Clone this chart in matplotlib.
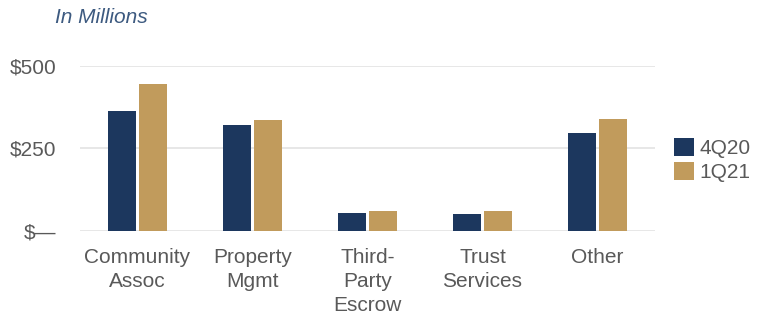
import matplotlib.pyplot as plt
import numpy as np

# ~~~~~~~~ data ~~~~~~~~
categories = ["Community\nAssoc", "Property\nMgmt", "Third-\nParty\nEscrow", "Trust\nServices", "Other"]
series_names = ["4Q20", "1Q21"]
q4_20 = [365, 320, 55, 52, 297]
q1_21 = [445, 336, 60, 60, 339]
yticks = [0, 250, 500]
ytick_labels = ["$\u2014", "$250", "$500"]

navy = "#1c375e"
tan = "#c19b5c"
grey = "#595959"

plt.rcParams['font.family'] = ['Liberation Sans', 'DejaVu Sans']

fig = plt.figure(figsize=(7.67, 3.23), dpi=100)
ax = fig.add_axes([0.1043, 0.2848, 0.7497, 0.5109])

x = np.arange(len(categories))
w = 0.25
ax.bar(x - 0.135, q4_20, w, color=navy, label=series_names[0], zorder=3)
ax.bar(x + 0.135, q1_21, w, color=tan, label=series_names[1], zorder=3)

ax.set_xlim(-0.5, len(categories) - 0.5)
ax.set_ylim(0, 500)
ax.set_yticks(yticks)
ax.set_yticklabels(ytick_labels)
ax.set_xticks(x)
ax.set_xticklabels(categories, linespacing=1.35)

for s in ax.spines.values():
    s.set_visible(False)
ax.grid(axis='y', color="#e3e3e3", linewidth=1.2, zorder=0)
ax.tick_params(axis='both', length=0, labelsize=15, colors=grey)
ax.tick_params(axis='x', pad=12)
ax.tick_params(axis='y', pad=17)

fig.text(0.072, 0.945, "In Millions", fontsize=15, style='italic', color="#3d5a80", va='center')

ax.legend(loc='center left', bbox_to_anchor=(1.0, 0.43), frameon=False, fontsize=15,
          handlelength=0.95, handleheight=0.95, labelspacing=0.2, handletextpad=0.3,
          labelcolor=grey)

fig.savefig("out.png", dpi=100)
